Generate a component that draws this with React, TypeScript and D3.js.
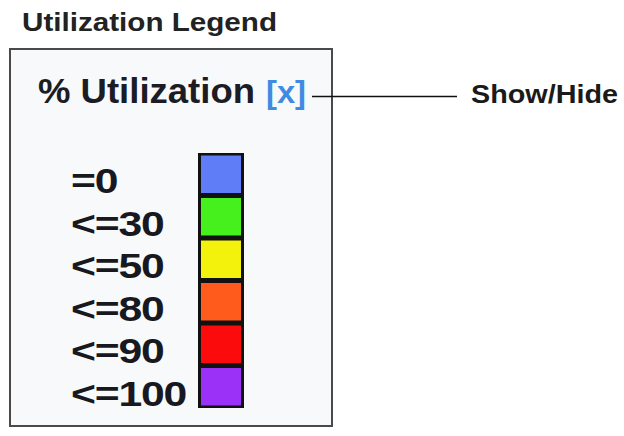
import { useEffect, useRef } from "react";
import * as d3 from "d3";

// legend categories and their colours
const thresholds = ["=0", "<=30", "<=50", "<=80", "<=90", "<=100"];
const colors = ["#5f7df6", "#45f01c", "#f2f20c", "#ff5b1c", "#fb0b0b", "#9b30f6"];

const title = "Utilization Legend";
const heading = "% Utilization";
const toggle = "[x]";
const callout = "Show/Hide";

export default function App() {
  const ref = useRef<SVGSVGElement>(null);

  useEffect(() => {
    if (!ref.current) return;
    const svg = d3.select(ref.current);
    svg.selectAll("*").remove();

    const font = "'Liberation Sans', Arial, Helvetica, sans-serif";

    // page title
    svg
      .append("text")
      .attr("x", 22)
      .attr("y", 31)
      .attr("textLength", 255)
      .attr("lengthAdjust", "spacingAndGlyphs")
      .style("font-family", font)
      .style("font-size", "25px")
      .style("font-weight", "bold")
      .style("fill", "#222")
      .text(title);

    // legend box
    svg
      .append("rect")
      .attr("x", 10)
      .attr("y", 49)
      .attr("width", 322)
      .attr("height", 377)
      .style("fill", "#f8f9fa")
      .style("stroke", "#4a4a4a")
      .style("stroke-width", 2);

    // heading
    svg
      .append("text")
      .attr("x", 38)
      .attr("y", 103)
      .attr("textLength", 217)
      .attr("lengthAdjust", "spacingAndGlyphs")
      .style("font-family", font)
      .style("font-size", "35px")
      .style("font-weight", "bold")
      .style("fill", "#1c1c24")
      .text(heading);

    svg
      .append("text")
      .attr("x", 266)
      .attr("y", 103)
      .attr("textLength", 40)
      .attr("lengthAdjust", "spacingAndGlyphs")
      .style("font-family", font)
      .style("font-size", "32px")
      .style("font-weight", "bold")
      .style("fill", "#3f8be2")
      .text(toggle);

    // callout line + label
    svg
      .append("line")
      .attr("x1", 312)
      .attr("x2", 457)
      .attr("y1", 96.5)
      .attr("y2", 96.5)
      .style("stroke", "#111")
      .style("stroke-width", 1.5);

    svg
      .append("text")
      .attr("x", 471)
      .attr("y", 103)
      .attr("textLength", 147)
      .attr("lengthAdjust", "spacingAndGlyphs")
      .style("font-family", font)
      .style("font-size", "25px")
      .style("font-weight", "bold")
      .style("fill", "#1a1a1a")
      .text(callout);

    // swatches
    const y = d3.scaleBand().domain(thresholds).range([153, 408]).padding(0);
    const color = d3.scaleOrdinal<string, string>().domain(thresholds).range(colors);
    const sx0 = 198;
    const sx1 = 244;

    svg
      .append("rect")
      .attr("x", sx0)
      .attr("y", 153)
      .attr("width", sx1 - sx0)
      .attr("height", 408 - 153)
      .style("fill", "#111");

    svg
      .selectAll(".swatch")
      .data(thresholds)
      .enter()
      .append("rect")
      .attr("class", "swatch")
      .attr("x", sx0 + 3)
      .attr("y", (d) => (y(d) as number) + 2.5)
      .attr("width", sx1 - sx0 - 6)
      .attr("height", y.bandwidth() - 5)
      .style("fill", (d) => color(d));

    // labels (stretched a bit, like the picture)
    svg
      .selectAll(".label")
      .data(thresholds)
      .enter()
      .append("text")
      .attr("class", "label")
      .attr("transform", (d) => `translate(71,${(y(d) as number) + y.bandwidth() / 2 + 19}) scale(1.22,1)`)
      .style("font-family", font)
      .style("font-size", "35px")
      .style("font-weight", "bold")
      .style("letter-spacing", "-1px")
      .style("fill", "#181820")
      .text((d) => d);
  }, []);

  return (
    <svg
      ref={ref}
      width={624}
      height={436}
      style={{ position: "absolute", left: 0, top: 0, background: "#fff" }}
    />
  );
}
